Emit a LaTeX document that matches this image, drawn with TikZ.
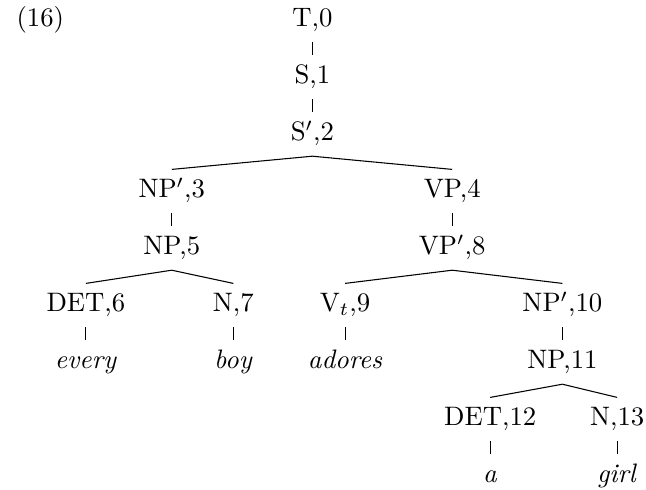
\documentclass[tikz,border=0pt]{standalone}
\usetikzlibrary{positioning}

\tikzset{
  tnode/.style={inner sep=3.5pt, text height=7pt, text depth=2pt},
  tedge/.style={line width=0.4pt}
}

\begin{document}
\begin{tikzpicture}
		\useasboundingbox (0,0) rectangle (8.50,-6.435);
		\node at (0.53,-0.267) {(16)};
		% tree nodes, one row per level
		\node[tnode] (t0) at (4.11,-0.267) {T,0};
		\node[tnode] (s1) at (4.11,-1.017) {S,1};
		\node[tnode] (s2) at (4.11,-1.767) {S$'$,2};
		\node[tnode] (np3) at (2.26,-2.517) {NP$'$,3};
		\node[tnode] (vp4) at (5.95,-2.517) {VP,4};
		\node[tnode] (np5) at (2.26,-3.267) {NP,5};
		\node[tnode] (vp8) at (5.95,-3.267) {VP$'$,8};
		\node[tnode] (det6) at (1.13,-4.017) {DET,6};
		\node[tnode] (n7) at (3.07,-4.017) {N,7};
		\node[tnode] (v9) at (4.54,-4.017) {V$_t$,9};
		\node[tnode] (np10) at (7.40,-4.017) {NP$'$,10};
		\node[tnode] (every) at (1.13,-4.767) {\textit{every}};
		\node[tnode] (boy) at (3.07,-4.767) {\textit{boy}};
		\node[tnode] (adores) at (4.54,-4.767) {\textit{adores}};
		\node[tnode] (np11) at (7.40,-4.767) {NP,11};
		\node[tnode] (det12) at (6.45,-5.517) {DET,12};
		\node[tnode] (n13) at (8.12,-5.517) {N,13};
		\node[tnode] (a) at (6.45,-6.267) {\textit{a}};
		\node[tnode] (girl) at (8.12,-6.267) {\textit{girl}};
		% branches
		\foreach \p/\c in {
			t0/s1, s1/s2, s2/np3, s2/vp4,
			np3/np5, vp4/vp8, np5/det6, np5/n7,
			vp8/v9, vp8/np10, det6/every, n7/boy,
			v9/adores, np10/np11, np11/det12, np11/n13,
			det12/a, n13/girl}{
			\draw[tedge] (\p.south) -- (\c.north);
		}
	\end{tikzpicture}
\end{document}
